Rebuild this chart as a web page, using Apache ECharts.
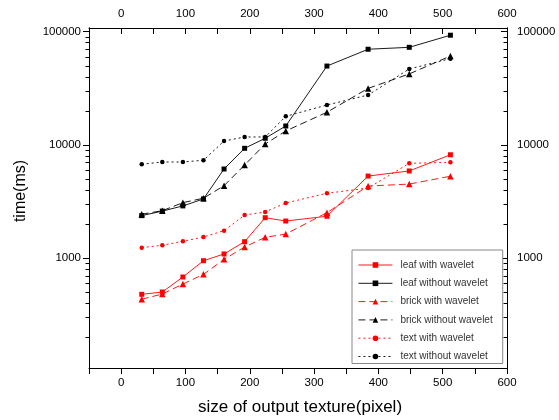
<!DOCTYPE html>
<html>
<head>
<meta charset="utf-8">
<script src="https://cdn.jsdelivr.net/npm/echarts@6/dist/echarts.min.js"></script>
<style>html,body{margin:0;padding:0;background:#fff;}#c{width:559px;height:420px;}</style>
</head>
<body>
<div id="c"></div>
<script>
// ---- data ----
var xSizes = [32, 64, 96, 128, 160, 192, 224, 256, 320, 384, 448, 512];
var leafWith = [481, 504, 684, 952, 1092, 1402, 2282, 2133, 2350, 5320, 5900, 8200];
var leafWithout = [2380, 2610, 2900, 3340, 6140, 9350, 11460, 14720, 49750, 70000, 72800, 93100];
var brickWith = [435, 484, 593, 722, 979, 1259, 1531, 1637, 2530, 4340, 4520, 5300];
var brickWithout = [2450, 2630, 3100, 3390, 4375, 6660, 10200, 13300, 19460, 31600, 42400, 61000];
var textWith = [1242, 1303, 1413, 1542, 1753, 2410, 2563, 3078, 3750, 4170, 6890, 7035];
var textWithout = [6760, 7080, 7080, 7330, 10840, 11770, 11770, 17900, 22540, 27600, 46900, 57800];
var seriesNames = ['leaf with wavelet', 'leaf without wavelet', 'brick with wavelet',
                   'brick without wavelet', 'text with wavelet', 'text without wavelet'];
var xLabels = [0, 100, 200, 300, 400, 500, 600];
var yMajorTicks = [1000, 10000, 100000];
var yMinorTicks = [200, 300, 400, 500, 600, 700, 800, 900,
                   2000, 3000, 4000, 5000, 6000, 7000, 8000, 9000,
                   20000, 30000, 40000, 50000, 60000, 70000, 80000, 90000];

function pairs(ys) { return xSizes.map(function (x, i) { return [x, ys[i]]; }); }

var FONT = 'Arial, "Liberation Sans", sans-serif';
var RED = '#ff0000', BLACK = '#000000';

function xAxisDef(pos, inside) {
  return {
    type: 'value', position: pos, min: -50, max: 600, interval: 50,
    axisLine: { show: true, onZero: false, lineStyle: { color: '#000', width: 1 } },
    axisTick: { show: true, inside: inside, length: 6, lineStyle: { color: '#000' } },
    axisLabel: {
      show: true, margin: pos === 'top' ? 8 : 9, color: '#000', fontSize: 11.5, fontFamily: FONT,
      formatter: function (v) { return xLabels.indexOf(v) >= 0 ? String(v) : ''; }
    },
    splitLine: { show: false }
  };
}
function yAxisDef(pos, major, inside, labels) {
  return {
    type: 'log', logBase: 10, position: pos, min: 107.6, max: 107800,
    axisLine: { show: true, onZero: false, lineStyle: { color: '#000', width: 1 } },
    axisTick: { show: true, inside: inside, length: major ? 6 : 3.5,
                customValues: major ? yMajorTicks : yMinorTicks, lineStyle: { color: '#000' } },
    axisLabel: { show: labels, customValues: yMajorTicks, margin: pos === 'left' ? 8 : 10,
                 color: '#000', fontSize: 11.5, fontFamily: FONT,
                 formatter: function (v) { return String(Math.round(v)); } },
    splitLine: { show: false }
  };
}

var xBottom = xAxisDef('bottom', false);
xBottom.name = 'size of output texture(pixel)';
xBottom.nameLocation = 'middle';
xBottom.nameGap = 31;
xBottom.nameTextStyle = { fontSize: 17, color: '#000', fontFamily: FONT, padding: [0, 0, 0, 4] };

var yLeft = yAxisDef('left', true, false, true);
yLeft.name = 'time(ms)';
yLeft.nameLocation = 'middle';
yLeft.nameGap = 60;
yLeft.nameRotate = 90;
yLeft.nameTextStyle = { fontSize: 16, color: '#000', fontFamily: FONT, padding: [0, 0, 0, 14] };

function mk(name, data, color, symbol, size, dash) {
  return {
    name: name, type: 'line', xAxisIndex: 0, yAxisIndex: 0, data: pairs(data),
    symbol: symbol, symbolSize: size, showAllSymbol: true,
    lineStyle: { color: color, width: 0.9, type: dash },
    itemStyle: { color: color },
    emphasis: { disabled: true }, animation: false
  };
}

var option = {
  animation: false,
  backgroundColor: '#fff',
  grid: { left: 89, right: 52, top: 28, bottom: 52, containLabel: false, outerBoundsMode: 'none' },
  xAxis: [xBottom, xAxisDef('top', true)],
  yAxis: [yLeft, yAxisDef('left', false, false, false),
          yAxisDef('right', true, true, true), yAxisDef('right', false, true, false)],
  legend: {
    orient: 'vertical', left: 352, top: 250,
    padding: [10, 10, 2, 6],
    itemWidth: 34, itemHeight: 7, itemGap: 8.3,
    borderColor: '#888', borderWidth: 1, backgroundColor: '#fff',
    lineStyle: { width: 0.9 },
    textStyle: { fontSize: 10, color: '#333', fontFamily: FONT, lineHeight: 10, padding: [0, 0, 0, 3] },
    data: seriesNames
  },
  series: [
    mk(seriesNames[0], leafWith, RED, 'rect', 5, 'solid'),
    mk(seriesNames[1], leafWithout, BLACK, 'rect', 5, 'solid'),
    mk(seriesNames[2], brickWith, RED, 'triangle', 6.5, [7, 4]),
    mk(seriesNames[3], brickWithout, BLACK, 'triangle', 6.5, [7, 4]),
    mk(seriesNames[4], textWith, RED, 'circle', 4.5, [2, 3]),
    mk(seriesNames[5], textWithout, BLACK, 'circle', 4.5, [2, 3])
  ]
};
var chart = echarts.init(document.getElementById('c'), null, { renderer: 'canvas' });
chart.setOption(option);
</script>
</body>
</html>
